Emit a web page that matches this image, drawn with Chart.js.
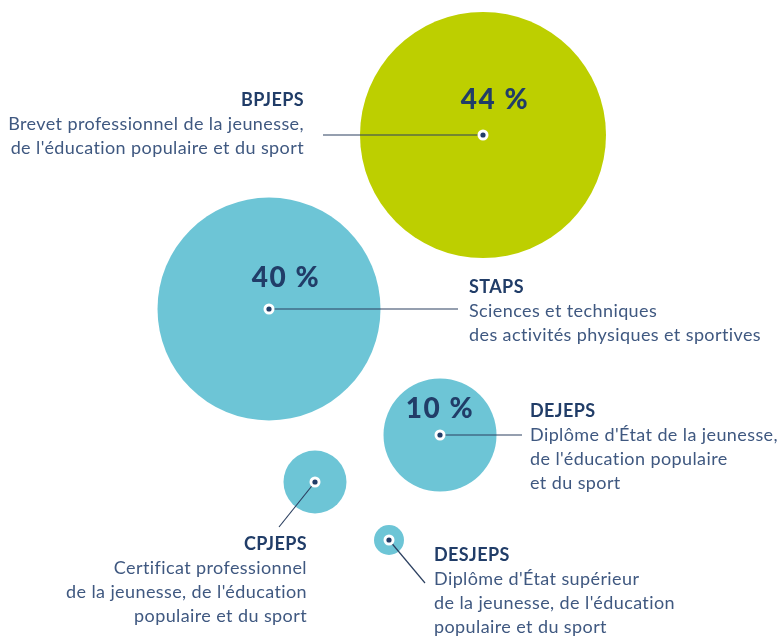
<!DOCTYPE html>
<html>
<head>
<meta charset="utf-8">
<script src="https://cdn.jsdelivr.net/npm/chart.js@4"></script>
<style>
    body { margin: 0; background: #fff; }
    #graficoDiplomes { display: block; }
</style>
</head>
<body>
<canvas id="graficoDiplomes" width="779" height="637"></canvas>
<script>
// Données
const diplomes = ['BPJEPS', 'STAPS', 'DEJEPS', 'CPJEPS', 'DESJEPS'];
const descriptions = [
    ['Brevet professionnel de la jeunesse,', "de l'éducation populaire et du sport"],
    ['Sciences et techniques', 'des activités physiques et sportives'],
    ["Diplôme d'État de la jeunesse,", "de l'éducation populaire", 'et du sport'],
    ['Certificat professionnel', "de la jeunesse, de l'éducation", 'populaire et du sport'],
    ["Diplôme d'État supérieur", "de la jeunesse, de l'éducation", 'populaire et du sport']
];
const pourcentages = [44, 40, 10, null, null];
const posX = [483, 269, 440, 315, 389];
const posY = [135, 309, 435, 482, 540];
const tailles = [123, 111.5, 56.5, 31.5, 15];

const couleurs = ['#bdcf00', '#6dc5d6', '#6dc5d6', '#6dc5d6', '#6dc5d6'];
const navy = '#213d68';
const navyClair = '#3f5880';

// Placement des étiquettes (mise en page)
const etiquettes = [
    { x: 304, y: 100, align: 'right', ligne: [323, 135] },
    { x: 469, y: 287, align: 'left', ligne: [458, 309] },
    { x: 530, y: 411, align: 'left', ligne: [522, 435] },
    { x: 307, y: 544, align: 'right', ligne: [279, 527] },
    { x: 434, y: 555, align: 'left', ligne: [425, 583] }
];
const decalagesPct = [[12, -35], [17, -31], [0, -26]];

const pluginEtiquettes = {
    id: 'etiquettes',
    afterDatasetsDraw(chart) {
        const ctx = chart.ctx;
        const meta = chart.getDatasetMeta(0);
        ctx.save();
        meta.data.forEach((pt, i) => {
            const et = etiquettes[i];
            // ligne de rappel
            ctx.beginPath();
            ctx.moveTo(pt.x, pt.y);
            ctx.lineTo(et.ligne[0], et.ligne[1]);
            ctx.strokeStyle = '#2c4060';
            ctx.lineWidth = 1.2;
            ctx.stroke();
            // point central
            ctx.beginPath();
            ctx.arc(pt.x, pt.y, 5.5, 0, Math.PI * 2);
            ctx.fillStyle = '#fff';
            ctx.fill();
            ctx.beginPath();
            ctx.arc(pt.x, pt.y, 2.6, 0, Math.PI * 2);
            ctx.fillStyle = navy;
            ctx.fill();
            // pourcentage
            if (pourcentages[i] !== null) {
                ctx.font = '900 28px Lato';
                ctx.letterSpacing = '1.5px';
                ctx.fillStyle = navy;
                ctx.textAlign = 'center';
                ctx.textBaseline = 'middle';
                ctx.fillText(pourcentages[i] + ' %', pt.x + decalagesPct[i][0], pt.y + decalagesPct[i][1]);
            }
            // titre + description
            ctx.letterSpacing = '0.4px';
            ctx.textAlign = et.align;
            ctx.textBaseline = 'middle';
            ctx.font = 'bold 18px Lato';
            ctx.fillStyle = navy;
            ctx.fillText(diplomes[i], et.x, et.y);
            ctx.font = '18px Lato';
            ctx.fillStyle = navyClair;
            descriptions[i].forEach((txt, j) => {
                ctx.fillText(txt, et.x, et.y + 24 * (j + 1));
            });
        });
        ctx.restore();
    }
};

new Chart(document.getElementById('graficoDiplomes'), {
    type: 'bubble',
    data: {
        labels: diplomes,
        datasets: [{
            data: diplomes.map((d, i) => ({ x: posX[i], y: posY[i], r: tailles[i] })),
            backgroundColor: couleurs,
            borderWidth: 0,
            hoverBorderWidth: 0
        }]
    },
    options: {
        responsive: false,
        animation: false,
        layout: { padding: 0, autoPadding: false },
        clip: false,
        plugins: {
            legend: { display: false },
            tooltip: { enabled: false }
        },
        scales: {
            x: { type: 'linear', min: 0, max: 779, display: false },
            y: { type: 'linear', min: 0, max: 637, reverse: true, display: false }
        }
    },
    plugins: [pluginEtiquettes]
});
</script>
</body>
</html>
